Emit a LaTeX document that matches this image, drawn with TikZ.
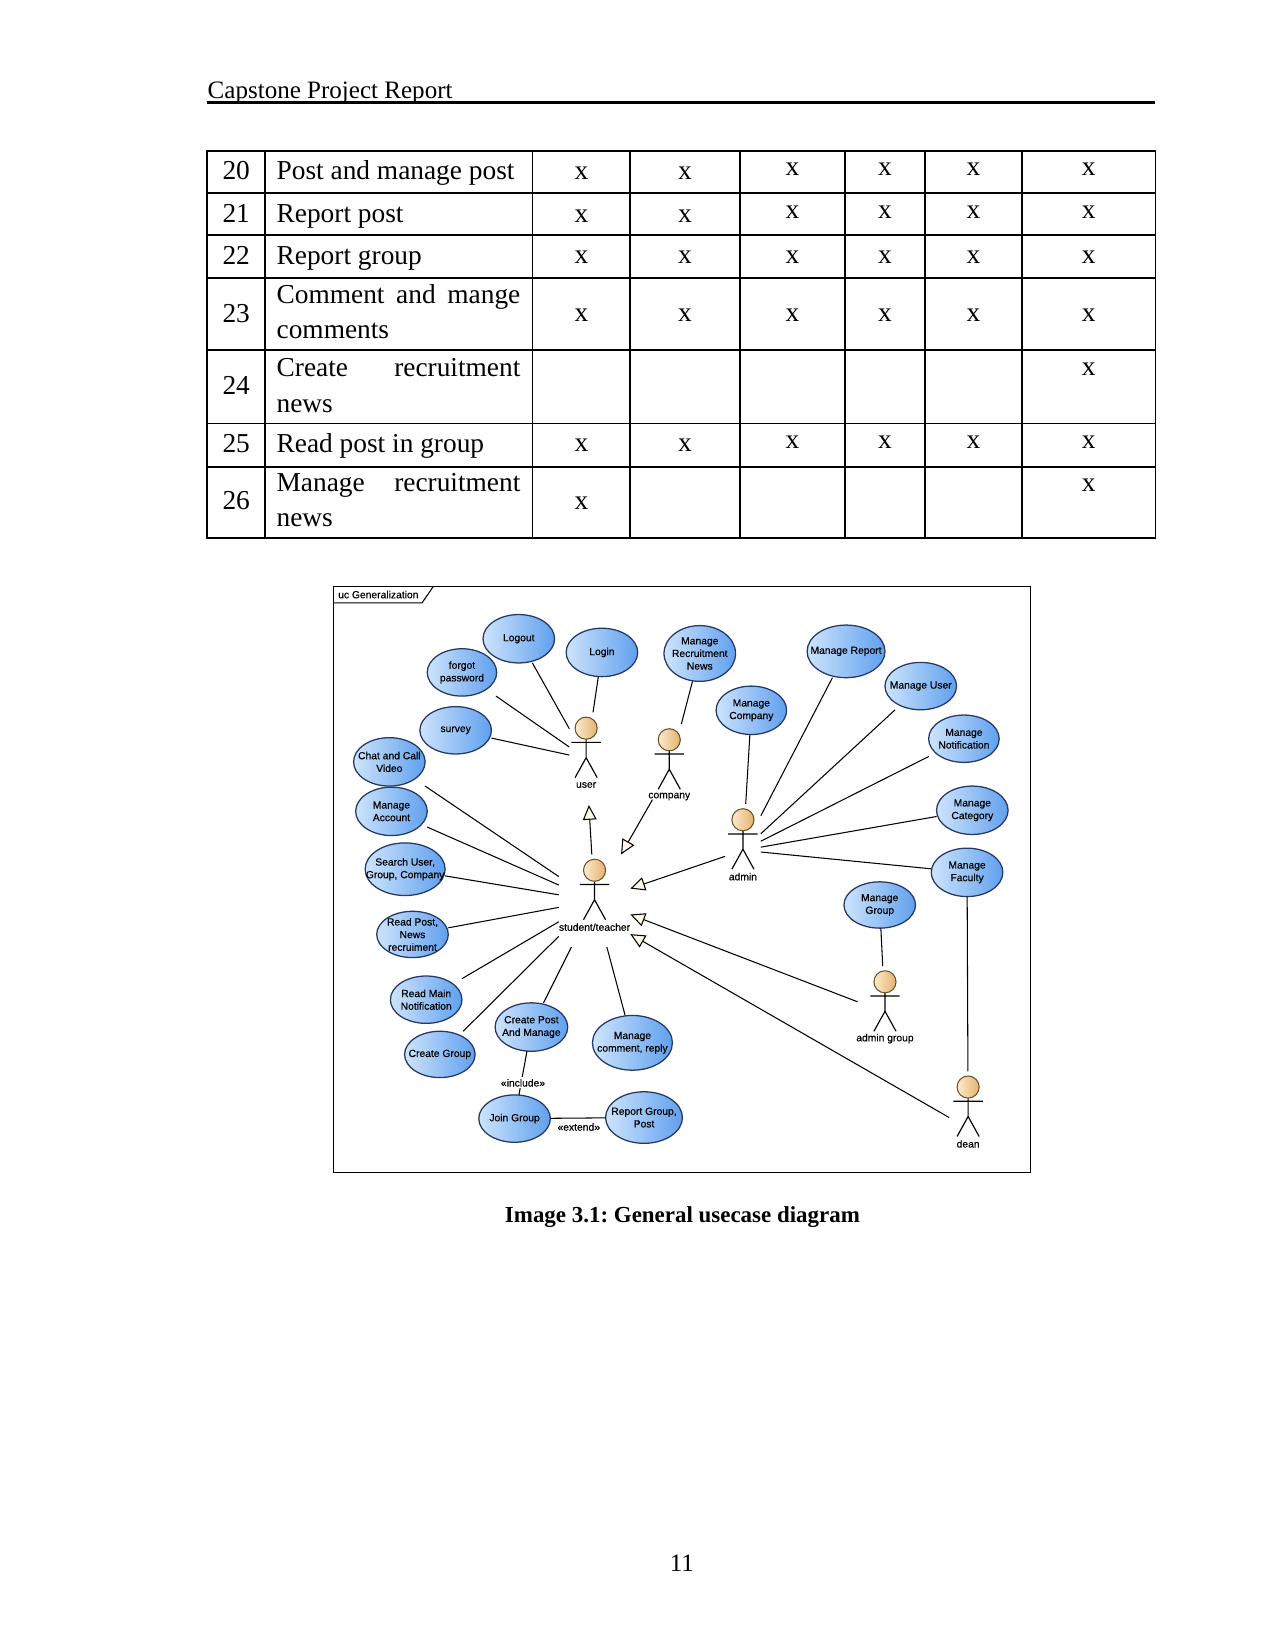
\documentclass[tikz,border=0pt]{standalone}
\usepackage{fontspec}
\setmainfont{Liberation Serif}
\newfontfamily\ucfont[FakeBold=0.35]{Liberation Sans}
\usetikzlibrary{arrows.meta}
\frenchspacing
\definecolor{ucL}{RGB}{205,228,252}
\definecolor{ucD}{RGB}{96,160,238}
\definecolor{ucB}{RGB}{38,56,100}
\definecolor{hdL}{RGB}{252,234,204}
\definecolor{hdD}{RGB}{228,178,112}
\definecolor{hdB}{RGB}{110,80,40}
\definecolor{arF}{RGB}{255,250,236}
\newcommand\ucase[6]{%
  \node[ucbox,minimum width=#4*0.5pt,minimum height=#5*0.5pt] (#1) at (#2,#3) {};
  \shadedraw[ucfill] (#2,#3) ellipse ({#4/2} and {#5/2});
  \node[uctext] (#1t) at (#2,#3) {#6};}
\newcommand\ucactor[5]{%
  \node[actbox,minimum width=#4*0.5pt] (#1) at (#2,#3+29) {};
  \draw[actline] (#2,#3+10.5) -- (#2,#3+28)
     (#2-14,#3+13.5) -- (#2+14,#3+13.5)
     (#2-10.5,#3+47) -- (#2,#3+28) -- (#2+10.5,#3+47);
  \shadedraw[headfill] (#2,#3) circle (5.25pt);
  \node[uctext] (#1l) at (#2,#3+54) {#5};}
\begin{document}
\begin{tikzpicture}[x=0.5pt,y=-0.5pt,
  ucbox/.style={rectangle,inner sep=0pt,outer sep=0pt},
  actbox/.style={rectangle,inner sep=0pt,outer sep=0pt,minimum height=44pt},
  ucfill/.style={left color=ucL,right color=ucD,draw=ucB,line width=0.6pt},
  headfill/.style={left color=hdL,right color=hdD,draw=hdB,line width=0.5pt},
  actline/.style={line width=0.55pt,black},
  uctext/.style={font=\ucfont\fontsize{4.9}{6}\selectfont,align=center,inner sep=0pt},
  assoc/.style={line width=0.5pt},
  gen/.style={line width=0.5pt,-{Triangle[length=7pt,width=6.5pt,fill=arF]}},
  tab/.style={line width=0.8pt,line cap=rect},
  ttext/.style={font=\fontsize{13}{15}\selectfont,inner sep=0pt,anchor=base west},
  tnum/.style={font=\fontsize{13}{15}\selectfont,inner sep=0pt,anchor=base},
  xmark/.style={font=\fontsize{13}{15}\selectfont,inner sep=0pt}]
\fill[white] (0,0) rectangle (1212,1568);
\useasboundingbox (0,0) rectangle (1212,1568);

% header
\node[anchor=base west,font=\fontsize{11.9}{14}\selectfont,inner sep=0pt] (hdr) at (197,93.5) {Capstone Project Report};
\draw[line width=1.1pt] (197,97.5) -- (1098,97.5);

% table grid
\foreach \yy in {143.5,183.4,223.4,264.4,332.5,402.4,443.6,511} \draw[tab] (197,\yy) -- (1098,\yy);
\foreach \xx in {197,252,506,599,703,803,879,971,1098} \draw[tab] (\xx,143.5) -- (\xx,511);

% table numbers
\node[tnum] (n20) at (224.5,170.5) {20};
\node[tnum] (n21) at (224.5,211) {21};
\node[tnum] (n22) at (224.5,251.6) {22};
\node[tnum] (n23) at (224.5,306) {23};
\node[tnum] (n24) at (224.5,374.5) {24};
\node[tnum] (n25) at (224.5,430) {25};
\node[tnum] (n26) at (224.5,484) {26};

% table texts
\node[ttext] (t20) at (262.5,170.7) {Post and manage post};
\node[ttext] (t21) at (262.5,211) {Report post};
\node[ttext] (t22) at (262.5,251.6) {Report group};
\node[ttext] (t23a) at (262.5,288.8) {\makebox[115.8pt][s]{Comment and mange}};
\node[ttext] (t23b) at (262.5,322) {comments};
\node[ttext] (t24a) at (262.5,358) {\makebox[115.8pt][s]{Create recruitment}};
\node[ttext] (t24b) at (262.5,392) {news};
\node[ttext] (t25) at (262.5,430) {Read post in group};
\node[ttext] (t26a) at (262.5,467) {\makebox[115.8pt][s]{Manage recruitment}};
\node[ttext] (t26b) at (262.5,500) {news};

% x marks
\foreach \px/\py [count=\i] in {
  552.5/165,651/165,753/161,841/161,925/161,1034.5/161,
  552.5/205,651/205,753/202,841/202,925/202,1034.5/202,
  552.5/244,651/244,753/244,841/244,925/244,1034.5/244,
  552.5/300,651/300,753/300,841/300,925/300,1034.5/300,
  1034.5/351,
  552.5/423.5,651/423.5,753/420.5,841/420.5,925/420.5,1034.5/420.5,
  552.5/478,1034.5/461}
  \node[xmark] (xm\i) at (\px,\py) {x};

% diagram frame
\draw[line width=0.5pt] (317,557) rectangle (979,1114);
\draw[line width=0.5pt] (317,573) -- (401,573) -- (412,557);
\node[uctext,anchor=west] (frm) at (321,565) {uc Generalization};

% use cases
\ucase{logout}{493}{607}{68}{46}{Logout}
\ucase{login}{572}{620}{68}{46}{Login}
\ucase{forgot}{439}{639}{66}{45}{forgot\\password}
\ucase{survey}{433}{694}{68}{45}{survey}
\ucase{chat}{370}{724}{68}{46}{Chat and Call\\Video}
\ucase{macc}{372}{771}{68}{46}{Manage\\Account}
\ucase{search}{385}{826}{76}{50}{Search User,\\Group, Company}
\ucase{readpost}{392}{888}{68}{44}{Read Post,\\News\\recruiment}
\ucase{readmain}{405}{950}{68}{45}{Read Main\\Notification}
\ucase{cgroup}{418}{1002}{67}{44}{Create Group}
\ucase{cpost}{505}{976}{69}{46}{Create Post\\And Manage}
\ucase{mcomm}{601}{991}{76}{52}{Manage\\comment, reply}
\ucase{join}{489}{1063}{68}{45}{Join Group}
\ucase{rgroup}{612}{1062}{73}{49}{Report Group,\\Post}
\ucase{mrec}{665}{621}{68}{53}{Manage\\Recruitment\\News}
\ucase{mcomp}{714}{675}{67}{46}{Manage\\Company}
\ucase{mrep}{804}{619}{74}{50}{Manage Report}
\ucase{muser}{875}{652}{68}{45}{Manage User}
\ucase{mnot}{916}{702}{67}{45}{Manage\\Notification}
\ucase{mcat}{924}{770}{68}{46}{Manage\\Category}
\ucase{mfac}{919}{829}{68}{46}{Manage\\Faculty}
\ucase{mgrp}{836}{860}{68}{44}{Manage\\Group}

% actors
\ucactor{user}{557}{692}{32}{user}
\ucactor{company}{636}{703}{32}{company}
\ucactor{admin}{706}{779}{34}{admin}
\ucactor{st}{565}{827}{68}{student/teacher}
\ucactor{ag}{841}{933}{52}{admin group}
\ucactor{dean}{920}{1033}{36}{dean}

% associations
\foreach \a/\b in {logout/user,login/user,forgot/user,survey/user,
  mrec/company,mcomp/admin,mrep/admin,muser/admin,mnot/admin,mcat/admin,mfac/admin,
  chat/st,macc/st,search/st,readpost/st,readmain/st,cgroup/st,cpost/st,mcomm/st,
  mgrp/ag,mfac/dean}
  \draw[assoc] (\a) -- (\b);

% generalizations
\draw[gen] (st) -- (user);
\draw[gen] (company) -- (st);
\draw[gen] (admin) -- (st);
\draw[gen] (ag) -- (st);
\draw[gen] (dean.west) -- (st.-43);

% include / extend
\draw[assoc] (cpost) -- (join);
\node[uctext,fill=white,inner sep=0.8pt] (inc) at (497,1029) {«include»};
\draw[assoc] (join) -- (rgroup);
\node[uctext] (ext) at (550,1071) {«extend»};

% caption and page number
\node[font=\bfseries\fontsize{10.9}{13}\selectfont,anchor=base,inner sep=0pt] (cap) at (648.5,1161.5) {Image 3.1: General usecase diagram};
\node[font=\fontsize{11.9}{14}\selectfont,anchor=base,inner sep=0pt] (pg) at (648,1493) {11};
\end{tikzpicture}
\end{document}
